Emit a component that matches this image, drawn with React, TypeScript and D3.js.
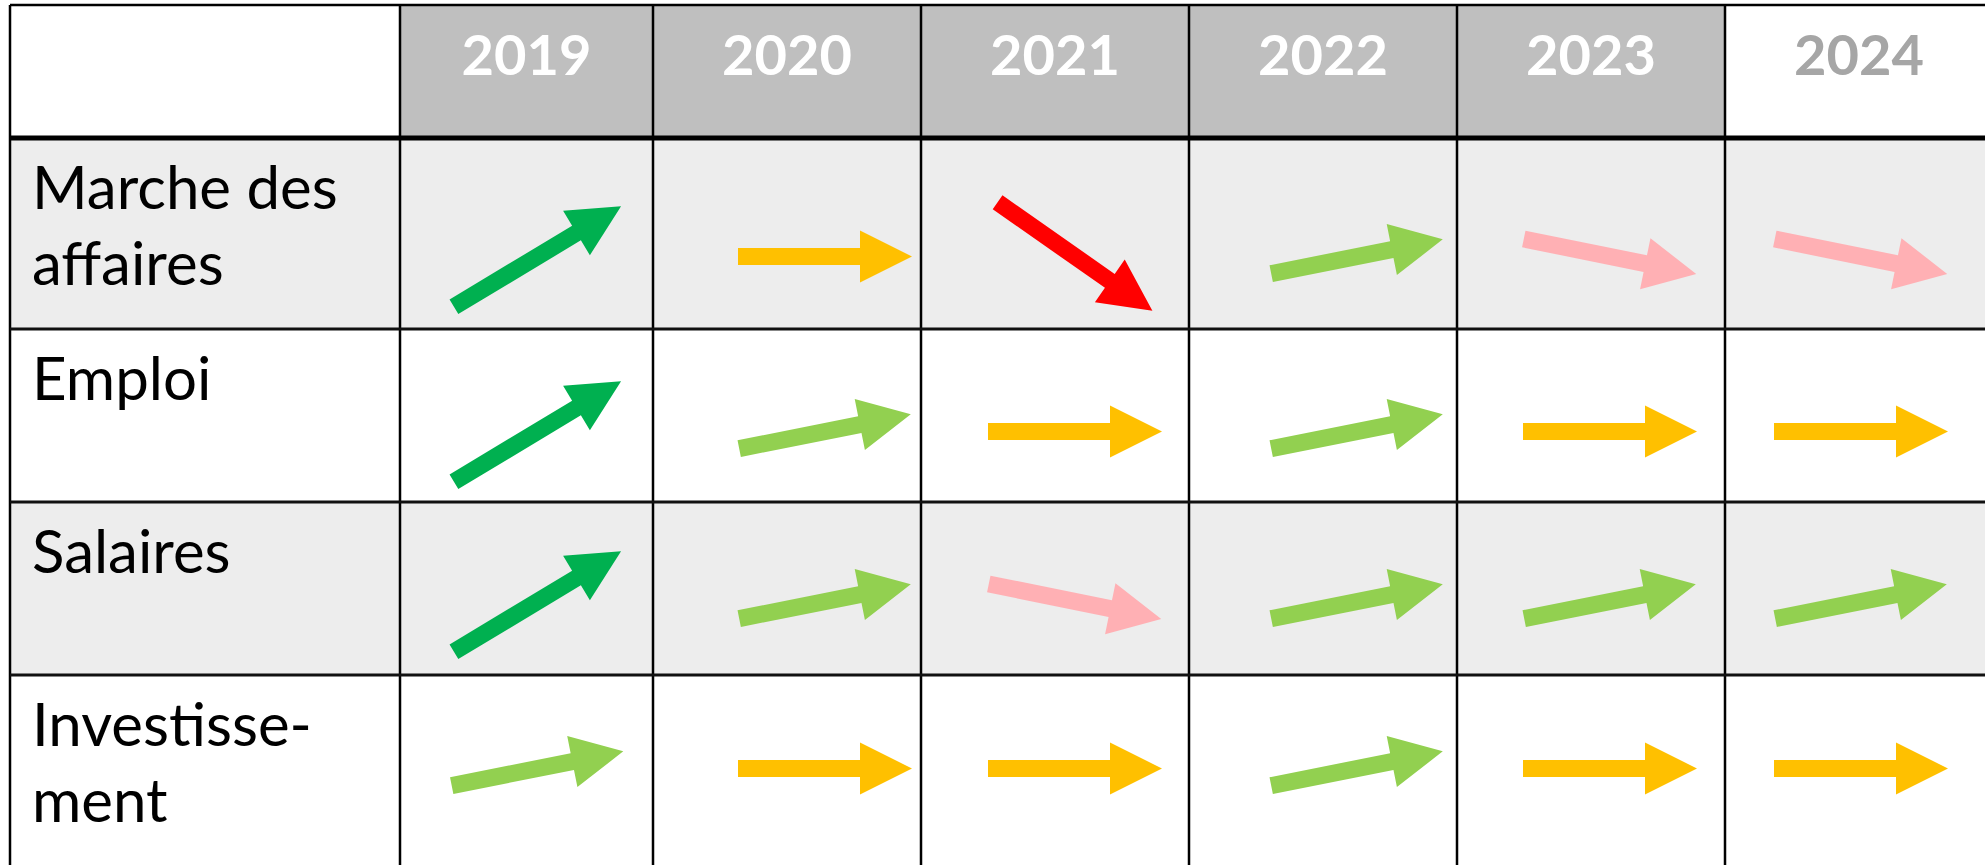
import React from "react";
import * as d3 from "d3";

// ---- data ----
const years = ["2019", "2020", "2021", "2022", "2023", "2024"];
const forecastYears = ["2024"];
const indicators = [["Marche des", "affaires"], ["Emploi"], ["Salaires"], ["Investisse-", "ment"]];
// trend level: 2 strong rise, 1 rise, 0 stable, -1 fall, -2 strong fall
const trendMarche = [2, 0, -2, 1, -1, -1];
const trendEmploi = [2, 1, 0, 1, 0, 0];
const trendSalaires = [2, 1, -1, 1, 1, 1];
const trendInvest = [1, 0, 0, 1, 0, 0];
const trends = [trendMarche, trendEmploi, trendSalaires, trendInvest];

// ---- layout ----
const W = 1985, H = 865;
const left = 10, top = 5, headerBottom = 138;
const labelColW = 390;
const yearColW = [253, 268, 268, 268, 268, 268];
const rowH = [191, 173, 173, 191];
const colNudge = [11, 38, 20, 34, 19, 2];
const rowNudge = [23, 16, 13, -2];

const levels = [2, 1, 0, -1, -2];
const colorScale = d3.scaleOrdinal<number, string>().domain(levels).range(["#00B050", "#92D050", "#FFC000", "#FFB0B4", "#FF0000"]);
const angleScale = d3.scaleOrdinal<number, number>().domain(levels).range([-31, -11.3, 0, 11.5, 35]);
const lengthScale = d3.scaleOrdinal<number, number>().domain(levels).range([195, 175, 174, 176, 189]);

const shaft = 17, headLen = 52, headW = 52;

function arrowPath(L: number) {
  const pts: [number, number][] = [
    [-L / 2, -shaft / 2], [L / 2 - headLen, -shaft / 2], [L / 2 - headLen, -headW / 2],
    [L / 2, 0], [L / 2 - headLen, headW / 2], [L / 2 - headLen, shaft / 2], [-L / 2, shaft / 2],
  ];
  return (d3.line()(pts) || "") + "Z";
}

export default function App() {
  const colEdges = [left, left + labelColW];
  yearColW.forEach((w) => colEdges.push(colEdges[colEdges.length - 1] + w));
  const rowEdges = [headerBottom];
  rowH.forEach((h) => rowEdges.push(rowEdges[rowEdges.length - 1] + h));
  const x0 = d3.scaleOrdinal<string, number>().domain(years).range(colEdges.slice(1, 7));
  const font = "Lato, Carlito, 'Open Sans', sans-serif";

  return (
    <svg width={W} height={H} style={{ position: "fixed", left: 0, top: 0, background: "#fff" }}>
      {/* header cells */}
      <rect x={left} y={top} width={labelColW} height={headerBottom - top} fill="#ffffff" />
      {years.map((y, i) => (
        <rect key={"h" + y} x={x0(y)} y={top} width={yearColW[i]} height={headerBottom - top}
          fill={forecastYears.includes(y) ? "#ffffff" : "#BFBFBF"} />
      ))}
      {/* body row backgrounds */}
      {indicators.map((_, r) => (
        <rect key={"bg" + r} x={left} y={rowEdges[r]} width={W - left} height={rowH[r]}
          fill={r % 2 === 0 ? "#EDEDED" : "#ffffff"} />
      ))}
      {/* header labels */}
      {years.map((y, i) => (
        <text key={"t" + y} x={x0(y) + yearColW[i] / 2} y={75} textAnchor="middle" fontFamily={font}
          fontWeight={700} fontSize={56} fill={forecastYears.includes(y) ? "#A6A6A6" : "#ffffff"}>{y}</text>
      ))}
      {/* row labels */}
      {indicators.map((lines, r) => (
        <text key={"l" + r} fontFamily={font} fontSize={60} fill="#000">
          {lines.map((ln, k) => (
            <tspan key={k} x={32} y={rowEdges[r] + 71 + k * 76}>{ln}</tspan>
          ))}
        </text>
      ))}
      {/* arrows */}
      {trends.map((row, r) => row.map((lv, c) => {
        const cx = x0(years[c]) + yearColW[c] / 2 + colNudge[c];
        const cy = rowEdges[r] + rowH[r] / 2 + rowNudge[r];
        return (
          <path key={"a" + r + "-" + c} d={arrowPath(lengthScale(lv))} fill={colorScale(lv)}
            transform={`translate(${cx},${cy}) rotate(${angleScale(lv)})`} />
        );
      }))}
      {/* grid lines */}
      {colEdges.map((x, i) => (
        <line key={"v" + i} x1={x} x2={x} y1={top} y2={H} stroke="#000" strokeWidth={2.5} />
      ))}
      <line x1={left} x2={W} y1={top} y2={top} stroke="#000" strokeWidth={2.5} />
      <line x1={left} x2={W} y1={headerBottom} y2={headerBottom} stroke="#000" strokeWidth={5} />
      {rowEdges.slice(1, 4).map((y, i) => (
        <line key={"hl" + i} x1={left} x2={W} y1={y} y2={y} stroke="#111" strokeWidth={3} />
      ))}
    </svg>
  );
}
